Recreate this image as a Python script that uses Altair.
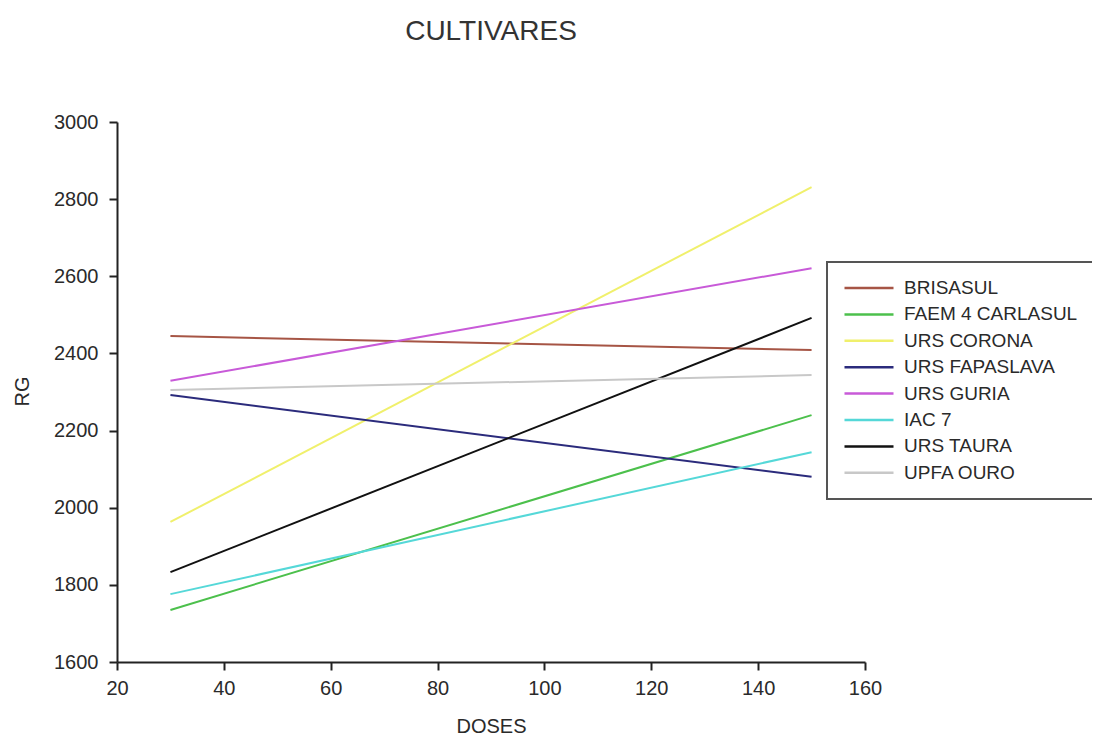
import altair as alt
import pandas as pd

cultivars = ["BRISASUL", "FAEM 4 CARLASUL", "URS CORONA", "URS FAPASLAVA",
             "URS GURIA", "IAC 7", "URS TAURA", "UPFA OURO"]
colors = ["#a65545", "#4cc04c", "#f0f06c", "#2b2b7c",
          "#c85ad8", "#55d8d8", "#111111", "#c8c8c8"]
dose_start = 30
dose_end = 150
rg_start = [2445, 1735, 1963, 2292, 2329, 1776, 1833, 2305]
rg_end = [2409, 2240, 2831, 2080, 2621, 2144, 2492, 2344]

rows = []
for name, a, b in zip(cultivars, rg_start, rg_end):
    rows.append({"cultivar": name, "dose": dose_start, "rg": a})
    rows.append({"cultivar": name, "dose": dose_end, "rg": b})
df = pd.DataFrame(rows)

FONT = "Liberation Sans"
TXT = "#2a2a2a"

chart = alt.Chart(df).mark_line(strokeWidth=2, clip=True).encode(
    x=alt.X("dose:Q", title="DOSES",
            scale=alt.Scale(domain=[20, 160], nice=False, zero=False),
            axis=alt.Axis(values=[20, 40, 60, 80, 100, 120, 140, 160],
                          format="d", labelFlush=False,
                          grid=False, domainColor="#222", domainWidth=2,
                          tickColor="#222", tickWidth=2, tickSize=8,
                          labelFontSize=20, labelPadding=8, labelColor=TXT,
                          labelFont=FONT, titleFont=FONT, titleFontSize=20,
                          titleFontWeight="normal", titleColor=TXT,
                          titleY=64, titleBaseline="middle")),
    y=alt.Y("rg:Q", title="RG",
            scale=alt.Scale(domain=[1600, 3000], nice=False, zero=False),
            axis=alt.Axis(values=[1600, 1800, 2000, 2200, 2400, 2600, 2800, 3000],
                          format="d", labelFlush=False,
                          grid=False, domainColor="#222", domainWidth=2,
                          tickColor="#222", tickWidth=2, tickSize=8,
                          labelFontSize=20, labelPadding=11, labelColor=TXT,
                          labelFont=FONT, titleFont=FONT, titleFontSize=20,
                          titleFontWeight="normal", titleColor=TXT,
                          titleAngle=-90, titleX=-95, titleY=269,
                          titleBaseline="middle", titleAlign="center")),
    color=alt.Color("cultivar:N",
                    scale=alt.Scale(domain=cultivars, range=colors),
                    sort=cultivars,
                    legend=alt.Legend(title=None, orient="none",
                                      legendX=710, legendY=140,
                                      symbolType="stroke", symbolSize=2401,
                                      symbolStrokeWidth=2.5, clipHeight=20,
                                      labelFont=FONT, labelFontSize=19,
                                      labelColor=TXT, labelOffset=9,
                                      rowPadding=6.4, padding=16,
                                      strokeColor="#555", fillColor="white",
                                      labelLimit=400)),
).properties(
    width=748,
    height=540,
    title=alt.TitleParams("CULTIVARES", font=FONT, fontSize=28,
                          fontWeight="normal", color="#333",
                          anchor="middle", offset=66),
    autosize=alt.AutoSizeParams(type="none"),
    padding={"left": 109, "top": 114, "right": 227, "bottom": 75},
).configure_view(stroke=None).configure_legend(strokeWidth=2)

chart.save("out.html", embed_options={"renderer": "svg", "actions": False})
